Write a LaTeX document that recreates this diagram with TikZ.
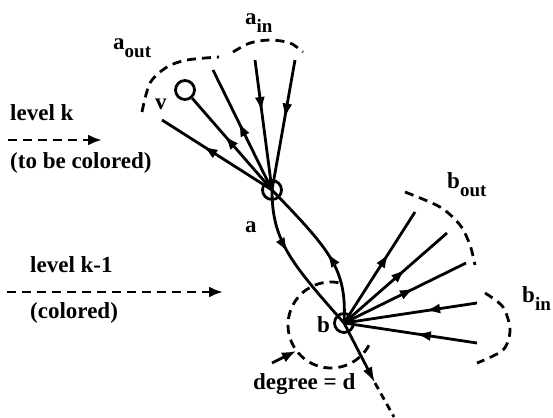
\documentclass[tikz,border=0pt]{standalone}
\usepackage{fontspec}
\setmainfont{Liberation Serif}
\usetikzlibrary{arrows.meta,decorations.markings}
\newcommand{\labfont}{\fontsize{23}{27}\selectfont\bfseries}
\newcommand{\sublab}[2]{#1\raisebox{-8pt}{\fontsize{19}{19}\selectfont #2}}

\begin{document}
\begin{tikzpicture}[x=1pt,y=-1pt,
    vertex/.style={circle,draw,line width=2.8pt,minimum size=19pt,inner sep=0pt},
    edge/.style={line width=2.8pt},
    dashline/.style={line width=2.8pt,dash pattern=on 9pt off 6pt},
    midarrow/.style={postaction={decorate},decoration={markings,mark=at position #1 with {\arrow{Latex[length=15pt,width=10pt]}}}},
    lab/.style={anchor=base west,inner sep=0pt,font=\labfont}]
    \useasboundingbox (0,0) rectangle (553,417);
    % vertices
    \node[vertex] (v) at (185,90) {};
    \node[vertex] (a) at (272,190) {};
    \node[vertex] (b) at (344,323) {};
    % free ends of the edges
    \coordinate (a1) at (162,120); \coordinate (a2) at (213,70); \coordinate (a3) at (255,60); \coordinate (a4) at (295,60);
    \coordinate (b1) at (415,212); \coordinate (b2) at (447,233); \coordinate (b3) at (466,263); \coordinate (b4) at (477,303); \coordinate (b5) at (477,343);
    \coordinate (bmid) at (375,383); \coordinate (bend) at (394,417);
    % edges at a
    \draw[edge,midarrow=0.6] (a.center) -- (v);
    \draw[edge,midarrow=0.63] (a.center) -- (a1);
    \draw[edge,midarrow=0.57] (a.center) -- (a2);
    \draw[edge,midarrow=0.4] (a3) -- (a.center);
    \draw[edge,midarrow=0.45] (a4) -- (a.center);
    % edges between a and b
    \draw[edge,midarrow=0.42] (a.center) .. controls (272,240) and (290,262) .. (b.center);
    \draw[edge,midarrow=0.47] (b.center) .. controls (347,270) and (332,252) .. (a.center);
    % edges at b
    \draw[edge,midarrow=0.63] (b.center) -- (b1);
    \draw[edge,midarrow=0.6] (b.center) -- (b2);
    \draw[edge,midarrow=0.58] (b.center) -- (b3);
    \draw[edge,midarrow=0.39] (b4) -- (b.center);
    \draw[edge,midarrow=0.46] (b5) -- (b.center);
    \draw[edge,-{Latex[length=16pt,width=10pt]}] (b.center) -- (bmid);
    \draw[edge,dash pattern=on 7pt off 5pt] (bmid) -- (bend);
    % dashed groups
    \draw[dashline] plot[smooth] coordinates {(142,112) (150,83) (167,67) (187,60) (219,57)};
    \draw[dashline] plot[smooth] coordinates {(233,52) (250,43) (270,40) (290,43) (303,52)};
    \draw[dashline] plot[smooth] coordinates {(405,192) (440,207) (460,225) (470,245) (475,265)};
    \draw[dashline] plot[smooth] coordinates {(485,293) (503,307) (510,330) (503,350) (477,363)};
    \coordinate (dc) at (331,325);
    \draw[dashline] (dc) ++(-80:43) arc[start angle=-80,end angle=-337,radius=43];
    \coordinate (dtail) at (272,363); \coordinate (dhead) at (296,351);
    \draw[edge,-{Latex[length=14pt,width=11pt]}] (dtail) -- (dhead);
    % legend
    \coordinate (lk0) at (8,140); \coordinate (lk1) at (102,140);
    \coordinate (lj0) at (7,292); \coordinate (lj1) at (223,292);
    \draw[dashline,-{Latex[length=14pt,width=11pt]}] (lk0) -- (lk1);
    \draw[dashline,-{Latex[length=14pt,width=11pt]}] (lj0) -- (lj1);
    % labels
    \node[lab] (lk) at (10,120) {level k};
    \node[lab] (lkc) at (10,168) {(to be colored)};
    \node[lab] (lj) at (30,272) {level k-1};
    \node[lab] (ljc) at (30,318) {(colored)};
    \node[lab] (vl) at (155,110) {v};
    \node[lab] (al) at (245,232) {a};
    \node[lab] (bl) at (317,332) {b};
    \node[lab] (deg) at (253,389) {degree = d};
    \node[lab] (aout) at (113,50) {\sublab{a}{out}};
    \node[lab] (ain) at (245,25) {\sublab{a}{in}};
    \node[lab] (bout) at (447,188) {\sublab{b}{out}};
    \node[lab] (bin) at (522,302) {\sublab{b}{in}};
\end{tikzpicture}
\end{document}
